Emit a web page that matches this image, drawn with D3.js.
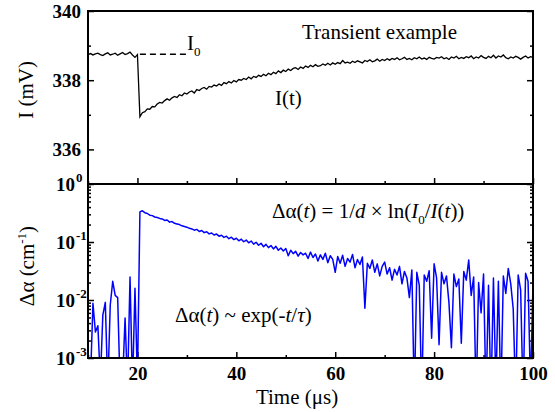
<!DOCTYPE html>
<html>
<head>
<meta charset="utf-8">
<script src="https://cdn.jsdelivr.net/npm/d3@7"></script>
<style>
body { margin: 0; background: #fff; }
text { font-family: "Liberation Serif", "Times New Roman", serif; }
</style>
</head>
<body>
<div id="graph"></div>
<script>
// sample times, us (0.5 us steps)
var times = d3.range(10, 100.25, 0.5)

// transmitted intensity I(t), mV
var intensity = [
	338.74, 338.77, 338.73, 338.76, 338.78, 338.74, 338.71, 338.76, 338.79, 338.73,
	338.75, 338.78, 338.72, 338.76, 338.80, 338.74, 338.77, 338.81, 338.73, 338.66,
	338.74, 336.94, 337.06, 337.09, 337.17, 337.16, 337.24, 337.23, 337.31, 337.36,
	337.34, 337.41, 337.46, 337.42, 337.49, 337.53, 337.50, 337.58, 337.55, 337.63,
	337.60, 337.66, 337.69, 337.63, 337.73, 337.70, 337.76, 337.79, 337.74, 337.82,
	337.80, 337.86, 337.83, 337.89, 337.85, 337.93, 337.90, 337.96, 337.92, 337.99,
	337.95, 338.02, 338.00, 338.05, 338.02, 338.09, 338.04, 338.11, 338.08, 338.14,
	338.11, 338.17, 338.13, 338.20, 338.16, 338.23, 338.19, 338.27, 338.22, 338.29,
	338.25, 338.32, 338.28, 338.34, 338.36, 338.31, 338.38, 338.34, 338.41, 338.37,
	338.43, 338.39, 338.45, 338.40, 338.42, 338.47, 338.43, 338.49, 338.44, 338.50,
	338.46, 338.51, 338.48, 338.57, 338.50, 338.52, 338.49, 338.55, 338.51, 338.56,
	338.53, 338.50, 338.57, 338.54, 338.59, 338.53, 338.56, 338.61, 338.55, 338.60,
	338.57, 338.62, 338.58, 338.63, 338.60, 338.65, 338.59, 338.62, 338.66, 338.60,
	338.63, 338.59, 338.65, 338.62, 338.67, 338.61, 338.64, 338.60, 338.66, 338.63,
	338.61, 338.66, 338.64, 338.68, 338.62, 338.65, 338.60, 338.67, 338.64, 338.69,
	338.62, 338.66, 338.63, 338.68, 338.65, 338.70, 338.62, 338.67, 338.64, 338.71,
	338.66, 338.63, 338.69, 338.65, 338.72, 338.64, 338.70, 338.67, 338.73, 338.65,
	338.62, 338.67, 338.64, 338.69, 338.66, 338.61, 338.66, 338.70, 338.64, 338.68,
	338.66
]

// absorption change, cm^-1 (tiny values = below the axis)
var deltaAlpha = [
	0.0003, 0.0004, 0.0088, 0.0028, 0.0036, 0.0004, 0.0055, 0.0091, 0.0003, 0.0082,
	0.021, 0.012, 0.011, 0.0003, 0.0004, 0.0049, 0.0003, 0.025, 0.0003, 0.016,
	0.0004, 0.33, 0.345, 0.32, 0.31, 0.29, 0.285, 0.27, 0.265, 0.255,
	0.25, 0.235, 0.24, 0.22, 0.225, 0.21, 0.205, 0.2, 0.19, 0.185,
	0.18, 0.172, 0.168, 0.16, 0.165, 0.152, 0.158, 0.145, 0.15, 0.138,
	0.143, 0.132, 0.137, 0.126, 0.131, 0.12, 0.126, 0.114, 0.121, 0.11,
	0.116, 0.105, 0.112, 0.101, 0.108, 0.097, 0.104, 0.092, 0.099, 0.088,
	0.095, 0.083, 0.091, 0.08, 0.087, 0.076, 0.084, 0.072, 0.079, 0.07,
	0.077, 0.058, 0.072, 0.063, 0.069, 0.057, 0.066, 0.06, 0.064, 0.052,
	0.067, 0.054, 0.062, 0.047, 0.06, 0.05, 0.064, 0.044, 0.058, 0.05,
	0.03, 0.056, 0.043, 0.059, 0.038, 0.052, 0.045, 0.061, 0.036, 0.05,
	0.041, 0.055, 0.0072, 0.043, 0.035, 0.049, 0.03, 0.042, 0.026, 0.038,
	0.045, 0.028, 0.036, 0.022, 0.034, 0.027, 0.038, 0.019, 0.031, 0.024,
	0.011, 0.033, 0.0002, 0.03, 0.018, 0.0002, 0.027, 0.021, 0.032, 0.0022,
	0.042, 0.024, 0.0017, 0.03, 0.019, 0.026, 0.009, 0.0015, 0.028, 0.017,
	0.023, 0.0018, 0.031, 0.022, 0.049, 0.012, 0.025, 0.0002, 0.02, 0.006,
	0.028, 0.0002, 0.018, 0.0002, 0.024, 0.0003, 0.021, 0.0002, 0.026, 0.013,
	0.035, 0.019, 0.007, 0.0002, 0.027, 0.015, 0.0002, 0.029, 0.021, 0.0003,
	0.019
]

var I0 = 338.75
var I0Span = [20.5, 30.5]

var xTicks = [20, 40, 60, 80, 100]
var xMinor = [10, 30, 50, 70, 90]
var topTicks = [336, 338, 340]
var topMinor = [335, 337, 339]
var logTicks = [1e-3, 1e-2, 1e-1, 1]
var logLabels = ['-3', '-2', '-1', '0']

var w = 555
var h = 412
var left = 88
var right = 533
var top1 = 11
var mid = 184
var bottom = 358
var font = '"Liberation Serif", "Times New Roman", serif'

var svg = d3.select('#graph')
	.append('svg')
	.attr('width', w)
	.attr('height', h)

var x = d3.scaleLinear().domain([10, 100]).range([left, right])
var yTop = d3.scaleLinear().domain([335, 340]).range([mid, top1])
var yBot = d3.scaleLog().domain([1e-3, 1]).range([bottom, mid])

var logMinor = []
logTicks.slice(0, 3).forEach(function(d) {
	for (var k = 2; k < 10; k++) logMinor.push(d * k)
})

svg.append('clipPath').attr('id', 'clipTop')
	.append('rect').attr('x', left).attr('y', top1).attr('width', right - left).attr('height', mid - top1)
svg.append('clipPath').attr('id', 'clipBot')
	.append('rect').attr('x', left).attr('y', mid).attr('width', right - left).attr('height', bottom - mid)

function addAxis(axis, tx, ty) {
	var g = svg.append('g')
		.attr('transform', 'translate(' + tx + ',' + ty + ')')
		.call(axis)
	g.select('.domain').remove()
	g.selectAll('line').attr('stroke', '#000').attr('stroke-width', 1.5)
	g.selectAll('text')
		.style('font-family', font)
		.style('font-size', '19px')
		.style('font-weight', 'bold')
		.attr('fill', '#000')
	return g
}

// top panel axes
addAxis(d3.axisLeft(yTop).tickValues(topTicks).tickSizeInner(-6).tickSizeOuter(0).tickPadding(7).tickFormat(d3.format('d')), left, 0)
addAxis(d3.axisLeft(yTop).tickValues(topMinor).tickSizeInner(-3).tickSizeOuter(0).tickFormat(''), left, 0)
addAxis(d3.axisRight(yTop).tickValues(topTicks).tickSizeInner(-6).tickSizeOuter(0).tickFormat(''), right, 0)
addAxis(d3.axisRight(yTop).tickValues(topMinor).tickSizeInner(-3).tickSizeOuter(0).tickFormat(''), right, 0)
addAxis(d3.axisBottom(x).tickValues(xTicks).tickSizeInner(-6).tickSizeOuter(0).tickFormat(''), 0, mid)
addAxis(d3.axisBottom(x).tickValues(xMinor).tickSizeInner(-3).tickSizeOuter(0).tickFormat(''), 0, mid)

// bottom panel axes
addAxis(d3.axisBottom(x).tickValues(xTicks).tickSizeInner(-6).tickSizeOuter(0).tickPadding(9).tickFormat(d3.format('d')), 0, bottom)
addAxis(d3.axisBottom(x).tickValues(xMinor).tickSizeInner(-3).tickSizeOuter(0).tickFormat(''), 0, bottom)
addAxis(d3.axisLeft(yBot).tickValues(logTicks).tickSizeInner(-6).tickSizeOuter(0).tickFormat(''), left, 0)
addAxis(d3.axisLeft(yBot).tickValues(logMinor).tickSizeInner(-3).tickSizeOuter(0).tickFormat(''), left, 0)
addAxis(d3.axisRight(yBot).tickValues(logTicks).tickSizeInner(-6).tickSizeOuter(0).tickFormat(''), right, 0)
addAxis(d3.axisRight(yBot).tickValues(logMinor).tickSizeInner(-3).tickSizeOuter(0).tickFormat(''), right, 0)

// log labels 10^n
logTicks.forEach(function(d, i) {
	var yy = yBot(d) + 7
	svg.append('text')
		.attr('x', 75).attr('y', yy)
		.attr('text-anchor', 'end')
		.style('font-size', '19px').style('font-weight', 'bold')
		.text('10')
	svg.append('text')
		.attr('x', 76).attr('y', yy - 9)
		.style('font-size', '13px').style('font-weight', 'bold')
		.text(logLabels[i])
})

// data lines
var lineTop = d3.line()
	.x(function(d, i) { return x(times[i]) })
	.y(function(d) { return yTop(d) })

var lineBot = d3.line()
	.x(function(d, i) { return x(times[i]) })
	.y(function(d) { return yBot(d) })

svg.append('path')
	.datum(intensity)
	.attr('clip-path', 'url(#clipTop)')
	.attr('fill', 'none')
	.attr('stroke', '#000')
	.attr('stroke-width', 1.3)
	.attr('d', lineTop)

svg.append('path')
	.datum(deltaAlpha)
	.attr('clip-path', 'url(#clipBot)')
	.attr('fill', 'none')
	.attr('stroke', '#0000ff')
	.attr('stroke-width', 1.5)
	.attr('stroke-linejoin', 'round')
	.attr('d', lineBot)

// I0 reference
svg.append('line')
	.attr('x1', x(I0Span[0])).attr('x2', x(I0Span[1]))
	.attr('y1', yTop(I0)).attr('y2', yTop(I0))
	.attr('stroke', '#000')
	.attr('stroke-width', 1.3)
	.attr('stroke-dasharray', '6,4')

// frames
svg.append('rect')
	.attr('x', left).attr('y', top1).attr('width', right - left).attr('height', mid - top1)
	.attr('fill', 'none').attr('stroke', '#000').attr('stroke-width', 2)
svg.append('rect')
	.attr('x', left).attr('y', mid).attr('width', right - left).attr('height', bottom - mid)
	.attr('fill', 'none').attr('stroke', '#000').attr('stroke-width', 2)

// axis titles
svg.append('text')
	.attr('x', 297).attr('y', 404)
	.attr('text-anchor', 'middle')
	.style('font-size', '21px')
	.text('Time (\u03bcs)')

svg.append('text')
	.attr('transform', 'translate(33,' + 90 + ') rotate(-90)')
	.attr('text-anchor', 'middle')
	.style('font-size', '21px')
	.text('I (mV)')

var ay = svg.append('text')
	.attr('transform', 'translate(34,' + 266 + ') rotate(-90)')
	.attr('text-anchor', 'middle')
	.style('font-size', '21px')
ay.append('tspan').text('\u0394\u03b1 (cm')
ay.append('tspan').attr('dy', -8).style('font-size', '13px').text('-1')
ay.append('tspan').attr('dy', 8).text(')')

// annotations
svg.append('text').attr('x', 302).attr('y', 39).style('font-size', '21px').text('Transient example')
svg.append('text').attr('x', 275).attr('y', 105).style('font-size', '21px').text('I(t)')

var i0 = svg.append('text').attr('x', 187).attr('y', 50).style('font-size', '21px')
i0.append('tspan').text('I')
i0.append('tspan').attr('dy', 6).style('font-size', '13px').text('0')

var eq1 = svg.append('text').attr('x', 272).attr('y', 218).style('font-size', '21px')
eq1.append('tspan').text('\u0394\u03b1(')
eq1.append('tspan').style('font-style', 'italic').text('t')
eq1.append('tspan').text(') = 1/')
eq1.append('tspan').style('font-style', 'italic').text('d')
eq1.append('tspan').text(' \u00d7 ln(')
eq1.append('tspan').style('font-style', 'italic').text('I')
eq1.append('tspan').attr('dy', 6).style('font-size', '13px').text('0')
eq1.append('tspan').attr('dy', -6).text('/')
eq1.append('tspan').style('font-style', 'italic').text('I')
eq1.append('tspan').text('(')
eq1.append('tspan').style('font-style', 'italic').text('t')
eq1.append('tspan').text('))')

var eq2 = svg.append('text').attr('x', 175).attr('y', 322).style('font-size', '21px')
eq2.append('tspan').text('\u0394\u03b1(')
eq2.append('tspan').style('font-style', 'italic').text('t')
eq2.append('tspan').text(') ~ exp(-')
eq2.append('tspan').style('font-style', 'italic').text('t')
eq2.append('tspan').text('/')
eq2.append('tspan').style('font-style', 'italic').text('\u03c4')
eq2.append('tspan').text(')')
</script>
</body>
</html>
